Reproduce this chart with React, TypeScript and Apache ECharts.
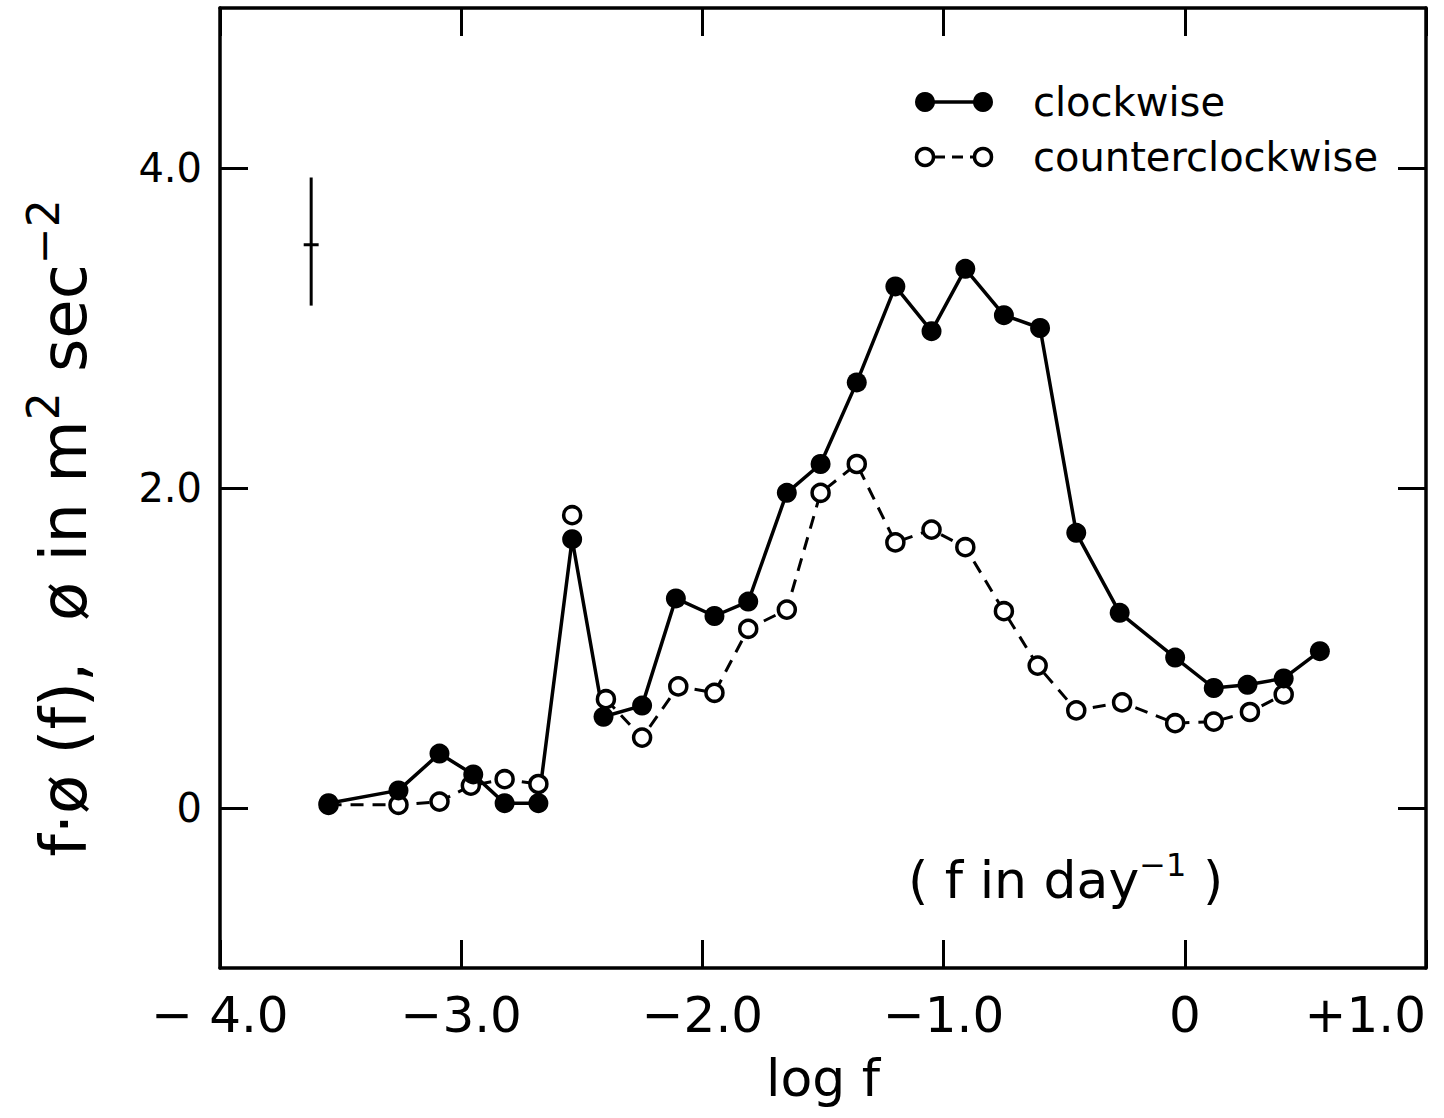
import React, { useEffect, useRef } from "react";
import * as echarts from "echarts";

// ---- data ----
const clockwiseX = [-3.55, -3.26, -3.09, -2.95, -2.82, -2.68, -2.54, -2.41, -2.25, -2.11, -1.95, -1.81, -1.65, -1.51, -1.36, -1.2, -1.05, -0.91, -0.75, -0.6, -0.45, -0.27, -0.04, 0.12, 0.26, 0.41, 0.56];
const clockwiseY = [0.03, 0.11, 0.34, 0.21, 0.03, 0.03, 1.68, 0.57, 0.64, 1.31, 1.2, 1.29, 1.97, 2.15, 2.66, 3.26, 2.98, 3.37, 3.08, 3.0, 1.72, 1.22, 0.94, 0.75, 0.77, 0.81, 0.98];
const counterX = [-3.55, -3.26, -3.09, -2.96, -2.82, -2.68, -2.54, -2.4, -2.25, -2.1, -1.95, -1.81, -1.65, -1.51, -1.36, -1.2, -1.05, -0.91, -0.75, -0.61, -0.45, -0.26, -0.04, 0.12, 0.27, 0.41];
const counterY = [0.02, 0.02, 0.04, 0.14, 0.18, 0.15, 1.83, 0.68, 0.44, 0.76, 0.72, 1.12, 1.24, 1.97, 2.15, 1.66, 1.74, 1.63, 1.23, 0.89, 0.61, 0.66, 0.53, 0.54, 0.6, 0.71];
// the dashed curve is not drawn between these indices and the next
const counterBreakAfter = [5, 6];

// error bar (upper left)
const errorBarX = -3.622;
const errorBarLow = 3.14;
const errorBarMid = 3.52;
const errorBarHigh = 3.94;
const errorBarCapHalf = 0.031;

const xTickLabels = ["\u2212 4.0", "\u22123.0", "\u22122.0", "\u22121.0", "0", "+1.0"];
const yTickValues = [0, 2, 4];
const yTickLabels = ["0", "2.0", "4.0"];

const FONT = "DejaVu Sans";

export default function App() {
  const ref = useRef<HTMLDivElement>(null);

  useEffect(() => {
    if (!ref.current) return;
    const chart = echarts.init(ref.current, null, { renderer: "svg" });

    const cwData = clockwiseX.map((x, i) => [x, clockwiseY[i]]);

    // split counterclockwise into segments
    const segments: number[][][] = [];
    let cur: number[][] = [];
    counterX.forEach((x, i) => {
      cur.push([x, counterY[i]]);
      if (counterBreakAfter.includes(i)) {
        segments.push(cur);
        cur = [];
      }
    });
    if (cur.length) segments.push(cur);

    const axisLine = { show: true, onZero: false, lineStyle: { color: "#000", width: 3.5 } };
    const tick = { show: true, inside: true, length: 28, lineStyle: { color: "#000", width: 3 } };

    const ccwSeries = segments.map((seg) => ({
      type: "line",
      data: seg,
      xAxisIndex: 0,
      yAxisIndex: 0,
      symbol: "circle",
      symbolSize: 17,
      showSymbol: true,
      itemStyle: { color: "#fff", borderColor: "#000", borderWidth: 3.5, opacity: 1 },
      lineStyle: { color: "#000", width: 3, type: [13, 9] },
      z: 3,
      silent: true,
    }));

    const option: any = {
      animation: false,
      backgroundColor: "#fff",
      grid: { left: 220, right: 18, top: 8, bottom: 150, containLabel: false, outerBoundsMode: "none" },
      xAxis: [
        {
          type: "value",
          min: -4,
          max: 1,
          interval: 1,
          position: "bottom",
          axisLine,
          axisTick: tick,
          splitLine: { show: false },
          axisLabel: {
            formatter: (v: number) => xTickLabels[Math.round(v + 4)],
            fontSize: 50,
            color: "#000",
            fontFamily: FONT,
            margin: 22,
            alignMaxLabel: "right",
          },
          name: "log f",
          nameLocation: "middle",
          nameGap: 84,
          nameTextStyle: { fontSize: 52, color: "#000", fontFamily: FONT },
        },
        {
          type: "value",
          min: -4,
          max: 1,
          interval: 1,
          position: "top",
          axisLine,
          axisTick: tick,
          splitLine: { show: false },
          axisLabel: { show: false },
        },
      ],
      yAxis: [
        {
          type: "value",
          min: -1,
          max: 5,
          position: "left",
          axisLine,
          axisTick: { ...tick, customValues: yTickValues },
          splitLine: { show: false },
          axisLabel: {
            customValues: yTickValues,
            formatter: (v: number) => yTickLabels[yTickValues.indexOf(Math.round(v))] ?? "",
            fontSize: 40,
            color: "#000",
            fontFamily: FONT,
            margin: 18,
          },
        },
        {
          type: "value",
          min: -1,
          max: 5,
          position: "right",
          axisLine,
          axisTick: { ...tick, customValues: yTickValues },
          splitLine: { show: false },
          axisLabel: { show: false },
        },
      ],
      series: [
        {
          type: "line",
          data: cwData,
          xAxisIndex: 0,
          yAxisIndex: 0,
          symbol: "none",
          showSymbol: false,
          lineStyle: { color: "#000", width: 3.5 },
          z: 2,
          silent: true,
        },
        ...ccwSeries,
        {
          type: "scatter",
          data: cwData,
          xAxisIndex: 0,
          yAxisIndex: 0,
          symbol: "circle",
          symbolSize: 20,
          itemStyle: { color: "#000", opacity: 1 },
          z: 4,
          silent: true,
        },
        {
          type: "line",
          data: [
            [errorBarX, errorBarLow],
            [errorBarX, errorBarHigh],
          ],
          xAxisIndex: 0,
          yAxisIndex: 0,
          symbol: "none",
          lineStyle: { color: "#000", width: 3 },
          silent: true,
        },
        {
          type: "line",
          data: [
            [errorBarX - errorBarCapHalf, errorBarMid],
            [errorBarX + errorBarCapHalf, errorBarMid],
          ],
          xAxisIndex: 0,
          yAxisIndex: 0,
          symbol: "none",
          lineStyle: { color: "#000", width: 3 },
          silent: true,
        },
      ],
      graphic: [
        // legend: clockwise
        { type: "line", shape: { x1: 925, y1: 102, x2: 983, y2: 102 }, style: { stroke: "#000", lineWidth: 3.5 }, silent: true },
        { type: "circle", shape: { cx: 925, cy: 102, r: 10 }, style: { fill: "#000" }, silent: true },
        { type: "circle", shape: { cx: 983, cy: 102, r: 10 }, style: { fill: "#000" }, silent: true },
        {
          type: "text",
          x: 1033,
          y: 102,
          style: { text: "clockwise", fontSize: 40, fontFamily: FONT, fill: "#000", verticalAlign: "middle", align: "left" },
          silent: true,
        },
        // legend: counterclockwise
        { type: "line", shape: { x1: 934, y1: 157, x2: 975, y2: 157 }, style: { stroke: "#000", lineWidth: 3, lineDash: [11, 7] }, silent: true },
        { type: "circle", shape: { cx: 925, cy: 157, r: 8.5 }, style: { fill: "#fff", stroke: "#000", lineWidth: 3.5 }, silent: true },
        { type: "circle", shape: { cx: 983, cy: 157, r: 8.5 }, style: { fill: "#fff", stroke: "#000", lineWidth: 3.5 }, silent: true },
        {
          type: "text",
          x: 1033,
          y: 157,
          style: { text: "counterclockwise", fontSize: 40, fontFamily: FONT, fill: "#000", verticalAlign: "middle", align: "left" },
          silent: true,
        },
        // (f in day^-1)
        {
          type: "text",
          x: 908,
          y: 880,
          style: {
            text: "{m|( f in day}{s|\u22121}{m| )}",
            align: "left",
            verticalAlign: "middle",
            fill: "#000",
            rich: {
              m: { fontSize: 52, fontFamily: FONT, fill: "#000" },
              s: { fontSize: 32, fontFamily: FONT, fill: "#000", padding: [0, 0, 30, 0] },
            },
          },
          silent: true,
        },
        // y-axis title (rotated)
        {
          type: "text",
          x: 64,
          y: 528,
          rotation: Math.PI / 2,
          style: {
            text: "{m|f\u00b7\u00f8 (f),  \u00f8 in m}{s|2}{m| sec}{s|\u22122}",
            align: "center",
            verticalAlign: "middle",
            fill: "#000",
            rich: {
              m: { fontSize: 64, fontFamily: FONT, fill: "#000" },
              s: { fontSize: 44, fontFamily: FONT, fill: "#000", padding: [0, 0, 42, 0] },
            },
          },
          silent: true,
        },
      ],
    };

    chart.setOption(option);
    return () => chart.dispose();
  }, []);

  return (
    <div
      ref={ref}
      style={{ position: "fixed", left: 0, top: 0, width: 1444, height: 1118, background: "#fff" }}
    />
  );
}
